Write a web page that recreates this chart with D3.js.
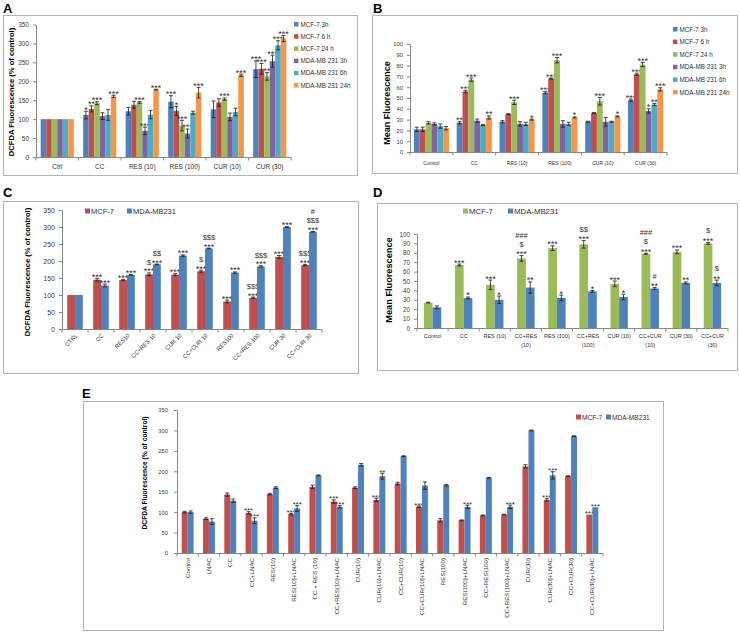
<!DOCTYPE html>
<html>
<head>
<meta charset="utf-8">
<script src="https://cdn.jsdelivr.net/npm/d3@7"></script>
<style>body{margin:0;background:#fff}</style>
</head>
<body>
<svg id="fig" width="740" height="634"></svg>
<script>
// ---------- panel A ----------
const aCats = ["Ctrl", "CC", "RES (10)", "RES (100)", "CUR (10)", "CUR (30)"];
const aNames = ["MCF-7 3h", "MCF-7 6 h", "MCF-7 24 h", "MDA-MB 231 3h", "MDA-MB 231 6h", "MDA-MB 231 24h"];
const aMcf3h = [100, 111, 121, 146, 126, 232];
const aMcf6h = [100, 127, 138, 122, 144, 233];
const aMcf24h = [100, 142, 144, 83, 153, 213];
const aMda3h = [100, 108, 69, 62, 106, 253];
const aMda6h = [100, 111, 112, 117, 119, 295];
const aMda24h = [100, 160, 178, 170, 216, 313];
const aMcf3hErr = [0, 10, 10, 16, 22, 22];
const aMcf6hErr = [0, 8, 9, 12, 10, 14];
const aMcf24hErr = [0, 4, 2, 14, 3, 10];
const aMda3hErr = [0, 9, 10, 12, 10, 16];
const aMda6hErr = [0, 14, 11, 4, 10, 12];
const aMda24hErr = [0, 3, 1, 14, 3, 8];
const aMcf3hSig = ["", "*", "", "***", "", "***"];
const aMcf6hSig = ["", "**", "", "*", "", "***"];
const aMcf24hSig = ["", "***", "***", "***", "***", "**"];
const aMda3hSig = ["", "", "***", "***", "", "***"];
const aMda6hSig = ["", "", "", "", "", "***"];
const aMda24hSig = ["", "***", "***", "***", "***", "***"];

// ---------- panel B ----------
const bCats = ["Control", "CC", "RES (10)", "RES (100)", "CUR (10)", "CUR (30)"];
const bNames = ["MCF-7 3h", "MCF-7 6 h", "MCF-7 24 h", "MDA-MB 231 3h", "MDA-MB 231 6h", "MDA-MB 231 24h"];
const bMcf3h = [21, 27, 28, 55, 28, 48];
const bMcf6h = [21, 56, 35, 68, 36, 72];
const bMcf24h = [27, 67, 46, 85, 47, 81];
const bMda3h = [26, 29, 26, 26, 28, 38];
const bMda6h = [24, 25, 26, 26, 28, 44];
const bMda24h = [22, 32, 30, 32, 33, 58];
const bMcf3hErr = [2, 1, 1, 1, 0.5, 1];
const bMcf6hErr = [2, 1, 0.5, 0.5, 0.5, 1];
const bMcf24hErr = [1, 1.5, 2, 2.5, 3.5, 2];
const bMda3hErr = [1, 1.5, 2, 3, 4, 2];
const bMda6hErr = [2, 0.5, 1.5, 1.5, 0.5, 1];
const bMda24hErr = [1.5, 1.5, 0.5, 0.5, 0.5, 1.5];
const bMcf3hSig = ["", "**", "", "***", "", "***"];
const bMcf6hSig = ["", "***", "", "***", "", "***"];
const bMcf24hSig = ["", "***", "***", "***", "***", "***"];
const bMda3hSig = ["", "", "", "", "", "*"];
const bMda6hSig = ["", "", "", "", "", "**"];
const bMda24hSig = ["", "**", "*", "*", "*", "***"];

// ---------- panel C ----------
const cCats = ["CTRL", "CC", "RES10", "CC+RES 10", "CUR 10", "CC+CUR 10", "RES100", "CC+RES 100", "CUR 30", "CC+CUR 30"];
const cNames = ["MCF-7", "MDA-MB231"];
const cMcf = [100, 145, 144, 161, 160, 170, 81, 92, 212, 188];
const cMda = [100, 128, 159, 190, 216, 237, 166, 184, 300, 286];
const cMcfErr = [0, 4, 2, 4, 3, 3, 4, 2, 4, 2];
const cMdaErr = [0, 4, 1, 1, 2, 1, 2, 2, 1, 1];
const cMcfSig = ["", "***", "***", "$\n***", "***", "$\n***", "***", "$$$\n***", "***", "$$$\n***"];
const cMdaSig = ["", "***", "***", "$$\n***", "***", "$$$\n***", "***", "$$$\n***", "***", "#\n$$$\n***"];

// ---------- panel D ----------
const dCats = ["Control", "CC", "RES (10)", "CC+RES (10)", "RES (100)", "CC+RES (100)", "CUR (10)", "CC+CUR (10)", "CUR (30)", "CC+CUR (30)"];
const dNames = ["MCF-7", "MDA-MB231"];
const dMcf = [27, 67, 46, 74, 85, 89, 47, 79, 81, 90];
const dMda = [22, 32, 30, 43, 32, 39, 33, 42, 48, 48];
const dMcfErr = [0.5, 1, 5, 3, 2.5, 4, 3, 0.5, 2, 1];
const dMdaErr = [1.5, 1, 4, 6, 3, 1, 3, 1, 1, 3];
const dMcfSig = ["", "***", "***", "###\n$\n***", "***", "$$\n***", "***", "###\n$\n***", "***", "$\n***"];
const dMdaSig = ["", "*", "*", "**", "*", "*", "*", "#\n**", "**", "$\n**"];

// ---------- panel E ----------
const eCats = ["Control", "LNAC", "CC", "CC+LNAC", "RES(10)", "RES(10)+LNAC", "CC + RES (10)", "CC+RES(10)+LNAC",
  "CUR(10)", "CUR(10)+LNAC", "CC+CUR(10)", "CC+CUR(10)+LNAC", "RES(100)", "RES(100)+LNAC", "CC+RES(100)",
  "CC+RES(100)+LNAC", "CUR(30)", "CUR(30)+LNAC", "CC+CUR(30)", "CC+CUR(30)+LNAC"];
const eNames = ["MCF-7", "MDA-MB231"];
const eMcf = [100, 84, 143, 98, 144, 95, 162, 126, 160, 130, 170, 113, 80, 80, 92, 94, 212, 130, 188, 94];
const eMda = [100, 77, 128, 79, 160, 109, 190, 113, 216, 188, 237, 165, 166, 113, 184, 113, 300, 190, 286, 112];
const eMcfErr = [2, 2, 4, 3, 2, 2, 4, 4, 2, 4, 3, 2, 4, 1, 1, 1, 4, 3, 1, 0];
const eMdaErr = [3, 7, 4, 7, 2, 7, 1, 3, 3, 7, 1, 9, 2, 4, 1, 4, 1, 9, 1, 0];
const eMcfSig = ["", "", "", "***", "", "***", "", "***", "", "***", "", "***", "", "", "", "", "", "***", "", "***"];
const eMdaSig = ["", "", "", "***", "", "***", "", "***", "", "**", "", "", "", "***", "", "***", "", "***", "", "***"];

const FONT = "'Liberation Sans', Arial, sans-serif";
const AXIS = "#888";
const BLUE = "#4F81BD", RED = "#C0504D", GREEN = "#9BBB59", PURPLE = "#8064A2", AQUA = "#4BACC6", ORANGE = "#F79646";

const svg = d3.select("#fig").attr("font-family", FONT);
svg.append("rect").attr("width", 740).attr("height", 634).attr("fill", "#fff");

function box(x, y, w, h) {
  svg.append("rect").attr("x", x + 0.5).attr("y", y + 0.5).attr("width", w).attr("height", h)
    .attr("fill", "none").attr("stroke", "#b4b4b4").attr("stroke-width", 1);
}

function letter(t, x, y) {
  svg.append("text").attr("x", x).attr("y", y).text(t)
    .attr("font-size", 13).attr("font-weight", "bold").attr("fill", "#000");
}

function yTitle(t, x, cy, fs) {
  svg.append("text").attr("transform", `translate(${x},${cy}) rotate(-90)`)
    .attr("text-anchor", "middle").attr("dominant-baseline", "middle")
    .attr("font-size", fs).attr("font-weight", "bold").attr("fill", "#000").text(t);
}

function barPanel(o) {
  const g = svg.append("g");
  const y = d3.scaleLinear().domain([0, o.yMax]).range([o.bottom, o.top]);
  const x = d3.scaleBand().domain(o.cats).range([o.left, o.right]);
  const groupW = x.bandwidth() * o.fill;
  const xs = d3.scaleBand().domain(d3.range(o.values.length)).range([0, groupW]);
  const pad = (x.bandwidth() - groupW) / 2;

  // y axis
  const yAxis = d3.axisLeft(y).tickValues(d3.range(0, o.yMax + 0.001, o.step))
    .tickSize(3).tickSizeOuter(0).tickPadding(o.tickPad || 4);
  const yg = g.append("g").attr("transform", `translate(${o.left},0)`).call(yAxis);
  yg.select(".domain").attr("stroke", AXIS);
  yg.selectAll(".tick line").attr("stroke", AXIS);
  yg.selectAll(".tick text").attr("font-size", o.tickFs).attr("font-family", FONT).attr("fill", "#404040");

  // x axis line with ticks at category boundaries
  g.append("line").attr("x1", o.left).attr("x2", o.right).attr("y1", o.bottom + 0.5).attr("y2", o.bottom + 0.5)
    .attr("stroke", AXIS);
  const bounds = o.cats.map(c => x(c)).concat([o.right]);
  g.selectAll(null).data(bounds).enter().append("line")
    .attr("x1", d => d).attr("x2", d => d).attr("y1", o.bottom).attr("y2", o.bottom + 3.5)
    .attr("stroke", AXIS);

  o.values.forEach((vals, si) => {
    const bx = i => x(o.cats[i]) + pad + xs(si);
    const bw = xs.bandwidth();
    const sg = g.append("g");
    sg.selectAll("rect").data(vals).enter().append("rect")
      .attr("x", (d, i) => bx(i)).attr("width", bw)
      .attr("y", d => y(d)).attr("height", d => o.bottom - y(d))
      .attr("fill", o.colors[si]);

    const errs = o.errors[si];
    const eg = sg.append("g").attr("stroke", "#1a1a1a").attr("stroke-width", 0.8);
    vals.forEach((v, i) => {
      const e = errs[i];
      if (!e) return;
      const cx = bx(i) + bw / 2;
      eg.append("line").attr("x1", cx).attr("x2", cx).attr("y1", y(v - e)).attr("y2", y(v + e));
      eg.append("line").attr("x1", cx - 2).attr("x2", cx + 2).attr("y1", y(v + e)).attr("y2", y(v + e));
      eg.append("line").attr("x1", cx - 2).attr("x2", cx + 2).attr("y1", y(v - e)).attr("y2", y(v - e));
    });

    // significance marks, stacked upward from the error cap
    const sig = o.sig[si];
    vals.forEach((v, i) => {
      if (!sig[i]) return;
      const cx = bx(i) + bw / 2;
      const lines = sig[i].split("\n").reverse();
      let base = y(v + errs[i]);
      let prevStar = null;
      lines.forEach(ln => {
        const isStar = ln.indexOf("*") >= 0;
        if (prevStar === null) base = base + (isStar ? 1.5 : -1.5);
        else base = base - (prevStar ? o.afterStar : o.lineH);
        sg.append("text").attr("x", cx).attr("y", base)
          .attr("text-anchor", "middle").attr("font-size", isStar ? o.starFs : o.sigFs)
          .attr("fill", "#333").text(ln);
        prevStar = isStar;
      });
    });
  });

  // category labels
  const lab = g.append("g").attr("fill", "#333").attr("font-size", o.catFs);
  o.cats.forEach(c => {
    const cx = x(c) + x.bandwidth() / 2;
    if (o.labelMode === "flat") {
      lab.append("text").attr("x", cx).attr("y", o.labelY).attr("text-anchor", "middle").text(c);
    } else if (o.labelMode === "wrap") {
      const parts = c.length > 9 ? [c.slice(0, c.lastIndexOf(" ")), c.slice(c.lastIndexOf(" ") + 1)] : [c];
      parts.forEach((p, k) => lab.append("text").attr("x", cx).attr("y", o.labelY + k * 8.5)
        .attr("text-anchor", "middle").text(p));
    } else if (o.labelMode === "rot45") {
      lab.append("text").attr("transform", `translate(${cx + 3},${o.bottom + 7}) rotate(-45)`)
        .attr("text-anchor", "end").text(c);
    } else {
      lab.append("text").attr("transform", `translate(${cx + 2},${o.bottom + 5}) rotate(-90)`)
        .attr("text-anchor", "end").text(c);
    }
  });
}

function legendCol(names, colors, x, y0, step, fs) {
  const g = svg.append("g");
  names.forEach((n, i) => {
    g.append("rect").attr("x", x).attr("y", y0 + i * step - 4).attr("width", 4.5).attr("height", 4.5).attr("fill", colors[i]);
    g.append("text").attr("x", x + 6.5).attr("y", y0 + i * step + 0.5).attr("font-size", fs).attr("fill", "#333").text(n);
  });
}

function legendRow(names, colors, xs, y, fs) {
  const g = svg.append("g");
  names.forEach((n, i) => {
    g.append("rect").attr("x", xs[i]).attr("y", y - 4.5).attr("width", 5).attr("height", 5).attr("fill", colors[i]);
    g.append("text").attr("x", xs[i] + 6).attr("y", y + 0.5).attr("font-size", fs).attr("fill", "#333").text(n);
  });
}

const sixColors = [BLUE, RED, GREEN, PURPLE, AQUA, ORANGE];

// ---------- A ----------
box(3, 15, 354, 160);
letter("A", 3, 13);
yTitle("DCFDA Fluorescence (% of control)", 12, 92, 7.6);
barPanel({
  cats: aCats, colors: sixColors,
  values: [aMcf3h, aMcf6h, aMcf24h, aMda3h, aMda6h, aMda24h],
  errors: [aMcf3hErr, aMcf6hErr, aMcf24hErr, aMda3hErr, aMda6hErr, aMda24hErr],
  sig: [aMcf3hSig, aMcf6hSig, aMcf24hSig, aMda3hSig, aMda6hSig, aMda24hSig],
  yMax: 350, step: 50, left: 36, right: 291, top: 24.5, bottom: 157, fill: 0.78,
  tickFs: 6.5, catFs: 6.5, starFs: 9, sigFs: 7, lineH: 8, afterStar: 10, labelMode: "flat", labelY: 169
});
legendCol(aNames, sixColors, 294, 26, 12.2, 6.3);

// ---------- B ----------
box(372, 15, 365, 158);
letter("B", 373, 13);
yTitle("Mean Fluorescence", 388, 103, 9);
barPanel({
  cats: bCats, colors: sixColors,
  values: [bMcf3h, bMcf6h, bMcf24h, bMda3h, bMda6h, bMda24h],
  errors: [bMcf3hErr, bMcf6hErr, bMcf24hErr, bMda3hErr, bMda6hErr, bMda24hErr],
  sig: [bMcf3hSig, bMcf6hSig, bMcf24hSig, bMda3hSig, bMda6hSig, bMda24hSig],
  yMax: 100, step: 10, left: 410, right: 667, top: 44, bottom: 152, fill: 0.82,
  tickFs: 5.8, catFs: 5, starFs: 9, sigFs: 7, lineH: 8, afterStar: 10, labelMode: "flat", labelY: 165
});
legendCol(bNames, sixColors, 673, 31, 12.6, 6.3);

// ---------- C ----------
box(3, 201, 355, 172);
letter("C", 3, 197);
yTitle("DCFDA Fluorescence (% of control)", 28, 272, 7.6);
legendRow(cNames, [RED, BLUE], [85, 127], 213, 7.5);
barPanel({
  cats: cCats, colors: [RED, BLUE],
  values: [cMcf, cMda], errors: [cMcfErr, cMdaErr], sig: [cMcfSig, cMdaSig],
  yMax: 350, step: 50, left: 62, right: 322, top: 210, bottom: 329, fill: 0.6,
  tickFs: 7, catFs: 5.8, starFs: 9, sigFs: 7.5, lineH: 9.5, afterStar: 9.5, labelMode: "rot45"
});

// ---------- D ----------
box(377, 203, 360, 167);
letter("D", 373, 197);
yTitle("Mean Fluorescence", 390, 280, 9.2);
legendRow(dNames, [GREEN, BLUE], [463, 508], 213, 7.8);
barPanel({
  cats: dCats, colors: [GREEN, BLUE],
  values: [dMcf, dMda], errors: [dMcfErr, dMdaErr], sig: [dMcfSig, dMdaSig],
  yMax: 100, step: 10, left: 417, right: 728, top: 234, bottom: 328, fill: 0.56,
  tickFs: 6.3, catFs: 5.5, starFs: 9, sigFs: 7.5, lineH: 9, afterStar: 10.5, labelMode: "wrap", labelY: 338
});

// ---------- E ----------
box(83, 401, 580, 229);
letter("E", 82, 398);
yTitle("DCFDA Fluorescence (% of control)", 145, 473, 6.7);
legendRow(eNames, [RED, BLUE], [576, 606], 419, 6.6);
barPanel({
  cats: eCats, colors: [RED, BLUE],
  values: [eMcf, eMda], errors: [eMcfErr, eMdaErr], sig: [eMcfSig, eMdaSig],
  yMax: 350, step: 50, left: 177, right: 603, top: 410, bottom: 553, fill: 0.56,
  tickFs: 5.8, tickPad: 6, catFs: 6.2, starFs: 8, sigFs: 7, lineH: 8, afterStar: 9, labelMode: "rot90"
});
</script>
</body>
</html>
